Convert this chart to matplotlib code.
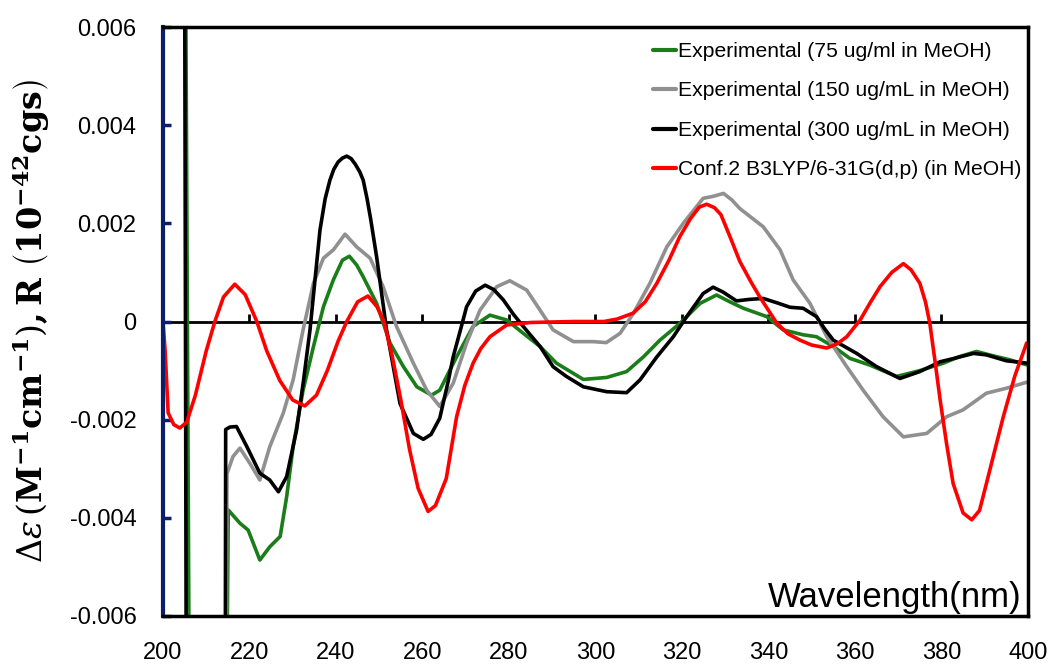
import matplotlib
matplotlib.use("Agg")
import matplotlib.pyplot as plt
import numpy as np

plt.rcParams["font.family"] = ["Liberation Sans", "DejaVu Sans"]
plt.rcParams["mathtext.fontset"] = "dejavuserif"

# CD spectra, values in units of 1e-3
wl_75 = [205.2, 206.1, 214.7, 215.1, 217.8, 219.7, 222.4, 224.7, 227.1, 228.6, 230.1, 232.4,
         234.8, 237.1, 239.4, 241.5, 243.1, 244.8, 246.3, 249.4, 252.5, 255.6, 258.7, 262.1,
         264.0, 265.6, 267.9, 271.7, 275.6, 279.5, 283.3, 287.2, 291.0, 297.2, 302.6, 307.2,
         311.1, 314.9, 319.5, 324.2, 328.0, 331.1, 334.2, 339.6, 343.4, 348.0, 351.1, 355.0,
         358.8, 363.5, 369.6, 375.0, 380.4, 384.0, 388.1, 392.0, 395.8, 400.0]
cd_75 = [8, -8, -8, -3.84, -4.11, -4.25, -4.86, -4.59, -4.38, -3.57, -2.55, -1.40,
         -0.51, 0.30, 0.85, 1.25, 1.33, 1.15, 0.91, 0.37, -0.44, -0.92, -1.33, -1.50,
         -1.40, -1.12, -0.72, -0.10, 0.13, 0.03, -0.24, -0.51, -0.85, -1.18, -1.14, -1.02,
         -0.72, -0.38, -0.04, 0.37, 0.54, 0.40, 0.27, 0.10, -0.17, -0.27, -0.31, -0.51,
         -0.75, -0.89, -1.12, -1.00, -0.85, -0.72, -0.61, -0.70, -0.78, -0.89]

wl_150 = [214.6, 214.8, 216.2, 217.8, 220.1, 222.4, 224.7, 227.8, 230.1, 232.4, 234.8, 237.1,
          239.4, 242.1, 244.8, 247.9, 250.9, 254.0, 257.9, 261.0, 264.0, 267.1, 270.2, 273.3,
          277.2, 280.2, 284.1, 287.2, 290.2, 294.9, 299.5, 302.5, 305.7, 308.8, 312.6, 316.5,
          320.3, 324.9, 327.2, 329.6, 331.5, 333.4, 338.8, 342.7, 345.7, 349.6, 353.5, 358.1,
          361.9, 366.5, 371.2, 376.6, 381.2, 385.0, 390.4, 395.0, 400.0]
cd_150 = [-8, -3.10, -2.75, -2.58, -2.89, -3.23, -2.55, -1.87, -1.19, -0.17, 0.78, 1.29,
          1.46, 1.78, 1.52, 1.29, 0.71, -0.10, -0.85, -1.40, -1.73, -1.26, -0.44, 0.23,
          0.71, 0.83, 0.64, 0.23, -0.17, -0.41, -0.41, -0.43, -0.24, 0.17, 0.78, 1.52,
          2.00, 2.51, 2.55, 2.61, 2.48, 2.30, 1.93, 1.46, 0.85, 0.37, -0.31, -0.92,
          -1.40, -1.94, -2.35, -2.28, -1.94, -1.80, -1.46, -1.36, -1.23]

wl_300 = [205.0, 205.4, 214.4, 214.5, 215.5, 217.0, 219.4, 222.4, 224.7, 226.7, 228.6, 230.9,
          232.5, 234.0, 236.3, 237.5, 238.6, 239.5, 240.5, 241.5, 242.5, 243.5, 244.5, 245.5,
          246.3, 247.2, 248.0, 249.4, 251.7, 254.8,
          257.9, 260.2, 262.0, 264.0, 266.0, 267.1, 268.7, 270.2, 272.3, 274.5, 276.5, 278.7,
          281.0, 283.3, 287.2, 290.2, 293.3, 297.2, 302.6, 307.2, 310.3, 314.2, 318.0, 321.1,
          324.9, 327.2, 329.5, 332.6, 335.5, 338.8, 342.0, 345.0, 348.0, 351.1, 353.0, 355.0,
          360.4, 365.0, 370.4, 375.0, 379.7, 383.0, 387.4, 390.4, 395.0, 400.0]
cd_300 = [8, -8, -8, -2.20, -2.15, -2.14, -2.55, -3.09, -3.23, -3.47, -3.16, -2.21,
          -1.20, -0.17, 1.86, 2.50, 2.88, 3.10, 3.25, 3.33, 3.37, 3.32, 3.20, 3.05,
          2.88, 2.50, 2.10, 1.32, -0.17, -1.67,
          -2.28, -2.40, -2.30, -1.97, -1.20, -0.72, -0.20, 0.30, 0.62, 0.74, 0.65, 0.44,
          0.15, -0.10, -0.51, -0.92, -1.12, -1.33, -1.43, -1.45, -1.19, -0.72, -0.31, 0.10,
          0.57, 0.70, 0.60, 0.42, 0.45, 0.47, 0.38, 0.29, 0.27, 0.10, -0.15, -0.38,
          -0.65, -0.92, -1.16, -1.02, -0.82, -0.75, -0.65, -0.68, -0.80, -0.85]

wl_calc = [200.0, 200.5, 201.2, 202.5, 203.9, 205.5, 207.5, 210.0, 212.0, 214.0, 216.6, 219.0,
           221.7, 224.0, 227.0, 230.0, 232.8, 235.5, 238.0, 240.5, 242.5, 245.0, 247.4, 249.5,
           251.1, 253.0, 255.0, 257.0, 259.0, 261.3, 263.0, 265.5, 267.9, 269.8, 271.7, 273.5,
           275.6, 279.5, 285.0, 295.0, 302.0, 305.0, 308.7, 311.5, 314.2, 317.0, 319.5, 322.0,
           324.0, 325.7, 327.5, 329.0, 331.1, 333.4, 336.0, 338.0, 341.9, 344.5, 347.3, 350.0,
           353.5, 356.0, 358.1, 361.2, 363.5, 365.8, 368.5, 371.2, 373.0, 375.0, 376.3, 377.3,
           378.5, 379.7, 381.2, 382.7, 385.0, 387.0, 388.8, 390.4, 392.4, 394.3, 397.0, 399.7]
cd_calc = [0.00, -0.60, -1.86, -2.10, -2.17, -2.05, -1.50, -0.60, 0.00, 0.50, 0.76, 0.55,
           0.00, -0.60, -1.20, -1.60, -1.72, -1.50, -1.00, -0.40, 0.00, 0.40, 0.52, 0.30,
           0.00, -0.70, -1.60, -2.60, -3.40, -3.87, -3.75, -3.20, -1.94, -1.30, -0.85, -0.55,
           -0.31, -0.07, -0.02, 0.00, 0.00, 0.05, 0.17, 0.40, 0.78, 1.25, 1.73, 2.10,
           2.33, 2.39, 2.32, 2.18, 1.73, 1.22, 0.80, 0.50, -0.03, -0.25, -0.38, -0.48,
           -0.54, -0.45, -0.31, 0.03, 0.38, 0.71, 1.00, 1.18, 1.05, 0.78, 0.40, -0.03,
           -0.80, -1.60, -2.50, -3.30, -3.90, -4.04, -3.85, -3.30, -2.60, -1.94, -1.10, -0.44]

series = [
    (wl_75, cd_75, "#1a7d1a", "Experimental (75 ug/ml in MeOH)"),
    (wl_150, cd_150, "#909090", "Experimental (150 ug/mL in MeOH)"),
    (wl_300, cd_300, "#000000", "Experimental (300 ug/mL in MeOH)"),
    (wl_calc, cd_calc, "#ff0000", "Conf.2 B3LYP/6-31G(d,p) (in MeOH)"),
]

x_ticks = [200, 220, 240, 260, 280, 300, 320, 340, 360, 380, 400]
y_ticks = [0.006, 0.004, 0.002, 0, -0.002, -0.004, -0.006]
y_tick_labels = ["0.006", "0.004", "0.002", "0", "-0.002", "-0.004", "-0.006"]

fig = plt.figure(figsize=(10.5, 6.64), dpi=100)
ax = fig.add_axes([0.1552, 0.0723, 0.8238, 0.887])

for wl, cd, color, label in series:
    ax.plot(wl, np.array(cd) * 1e-3, color=color, lw=2.6, label=label,
            solid_joinstyle="round", solid_capstyle="round")

ax.set_xlim(200, 400)
ax.set_ylim(-0.006, 0.006)

# zero line carries the x tick marks
ax.axhline(0, color="black", lw=2.0, zorder=1)
ax.vlines(x_ticks[1:-1], 0, 0.00016, color="black", lw=2.0, zorder=1)

ax.set_xticks(x_ticks)
ax.tick_params(axis="x", length=0, pad=19, labelsize=17)
ax.set_yticks(y_ticks)
ax.set_yticklabels(y_tick_labels)
ax.tick_params(axis="y", direction="in", length=6, width=2.5, color="#0b1d6b", pad=19, labelsize=17)

for side in ["top", "right", "bottom"]:
    ax.spines[side].set_linewidth(2.5)
    ax.spines[side].set_color("black")
ax.spines["left"].set_linewidth(3)
ax.spines["left"].set_color("#0b1d6b")

ax.text(0.9927, 0.016, "Wavelength(nm)", transform=ax.transAxes, ha="right", va="baseline",
        fontsize=25)

ax.set_ylabel(r"$\Delta\varepsilon\,\left(\mathbf{M^{-1}cm^{-1}}\right)\mathbf{,R}\ \left(\mathbf{10^{-42}cgs}\right)$",
              fontsize=24)
ax.yaxis.set_label_coords(-0.128, 0.5)

leg = ax.legend(loc="upper right", bbox_to_anchor=(1021 / 1050, 1 - 42 / 664),
                bbox_transform=fig.transFigure, frameon=False, fontsize=15.2,
                handlelength=1.05, handletextpad=0.1, labelspacing=0.97, borderpad=0,
                borderaxespad=0)
for line in leg.get_lines():
    line.set_linewidth(3)

fig.savefig("out.png", dpi=100)
